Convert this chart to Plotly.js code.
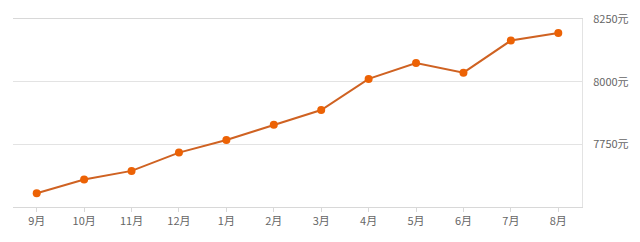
<!DOCTYPE html>
<html><head><meta charset="utf-8">
<script src="https://cdn.plot.ly/plotly-3.0.1.min.js"></script>
<style>html,body{margin:0;padding:0;background:#fff}#c{width:640px;height:242px}</style>
</head><body><div id="c"></div>
<script>
var months = ['9月','10月','11月','12月','1月','2月','3月','4月','5月','6月','7月','8月'];
var prices = [7555, 7610, 7644, 7717, 7767, 7828, 7887, 8011, 8074, 8036, 8164, 8194];
var yTicks = [7750, 8000, 8250];
var yTickLabels = yTicks.map(function(v){return v + '元';});

Plotly.newPlot('c', [{
  x: months, y: prices, type: 'scatter', mode: 'lines+markers',
  line: {color: '#cf6222', width: 2},
  marker: {color: '#ec6205', size: 8}
}], {
  width: 640, height: 242,
  margin: {l: 13, r: 58, t: 19, b: 35},
  paper_bgcolor: '#fff', plot_bgcolor: '#fff',
  showlegend: false,
  font: {family: '"Noto Sans CJK SC", "Open Sans", sans-serif', size: 11, color: '#666'},
  xaxis: {
    type: 'category', range: [-0.5, 11.5],
    showgrid: false, zeroline: false,
    showline: true, linecolor: '#d8d8d8', linewidth: 1, mirror: true,
    ticks: 'outside', ticklen: 4, tickcolor: '#d8d8d8',
    tickfont: {size: 11, color: '#666'}
  },
  yaxis: {
    side: 'right', range: [7500, 8250],
    tickvals: yTicks, ticktext: yTickLabels,
    showgrid: true, gridcolor: '#e3e3e3', gridwidth: 1,
    zeroline: false, showline: true, linecolor: '#e3e3e3', linewidth: 1,
    ticks: '', ticklabelstandoff: 8,
    tickfont: {size: 11, color: '#666'}
  }
}, {displayModeBar: false, staticPlot: true});
</script></body></html>
